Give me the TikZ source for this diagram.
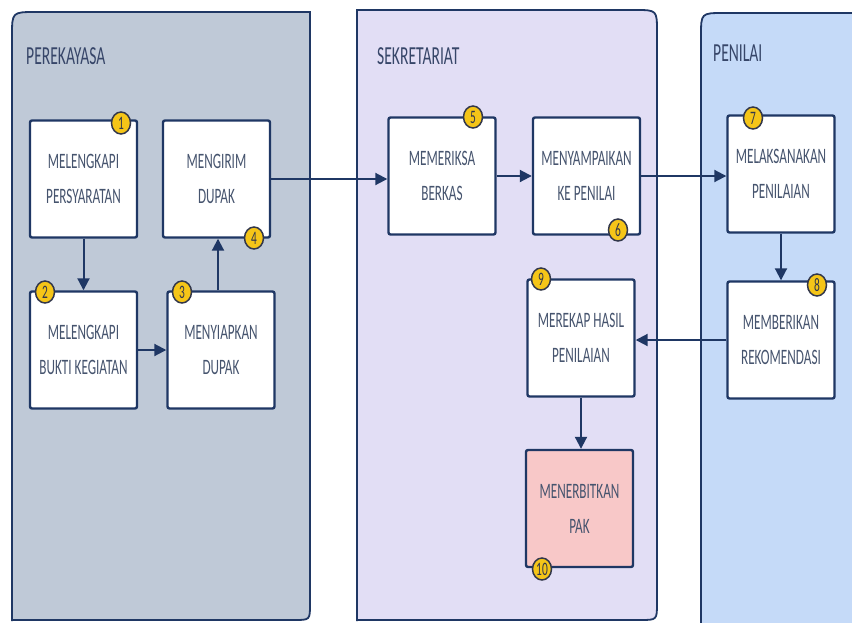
\documentclass[tikz,border=0pt]{standalone}
\usepackage{fontspec}
\setmainfont[FakeStretch=0.6]{Carlito}
\usetikzlibrary{arrows.meta,shapes.geometric}
\definecolor{navy}{RGB}{31,55,100}
\definecolor{txt}{RGB}{70,84,110}
\definecolor{ttl}{RGB}{55,70,105}
\definecolor{pone}{RGB}{191,201,215}
\definecolor{ptwo}{RGB}{226,222,245}
\definecolor{pthree}{RGB}{197,218,248}
\definecolor{pinkbox}{RGB}{248,200,200}
\definecolor{badgey}{RGB}{245,197,24}
\definecolor{badgeb}{RGB}{50,55,75}
\tikzset{
  panel/.style={draw=navy, line width=1.8pt},
  stepbox/.style={draw=navy, fill=white, line width=2.4pt, rounded corners=2pt,
    align=center, text=txt, font=\fontsize{22}{35}\selectfont,
    minimum width=107pt, minimum height=117pt, inner sep=0pt},
  badge/.style={ellipse, draw=badgeb, fill=badgey, line width=1.5pt,
    minimum width=19pt, minimum height=22pt, inner sep=0pt, text=badgeb, font=\fontsize{19}{19}\selectfont},
  title/.style={anchor=west, text=ttl, font=\fontsize{26}{26}\selectfont, inner sep=0pt},
  flow/.style={draw=navy, line width=2pt, -{Triangle[length=12pt,width=12pt]}}
}
\begin{document}
\begin{tikzpicture}[x=1pt,y=-1pt]
\useasboundingbox (0,0) rectangle (852,622);
\clip (0,0) rectangle (852,622);
\fill[white] (0,0) rectangle (852,622);
% panels
\filldraw[panel, fill=pone] (12,621) -- (12,36) .. controls (12,12) .. (36,12) -- (310,12) -- (310,604) .. controls (310,620) .. (294,620) -- (12,620);
\filldraw[panel, fill=ptwo] (357,621) -- (357,10) -- (635,10) .. controls (657,10) .. (657,32) -- (657,603) .. controls (657,620) .. (640,620) -- (357,620);
\filldraw[panel, fill=pthree] (701,630) -- (701,36) .. controls (701,13) .. (724,13) -- (860,13) -- (860,630) -- cycle;
% titles
\node[title] (t1) at (26,56) {PEREKAYASA};
\node[title] (t2) at (377,56) {SEKRETARIAT};
\node[title] (t3) at (713,53) {PENILAI};
% boxes
\node[stepbox] (b1) at (83.5,179) {MELENGKAPI\\PERSYARATAN};
\node[stepbox] (b4) at (216.5,179) {MENGIRIM\\DUPAK};
\node[stepbox] (b2) at (83.5,350) {MELENGKAPI\\BUKTI KEGIATAN};
\node[stepbox] (b3) at (221,350) {MENYIAPKAN\\DUPAK};
\node[stepbox] (b5) at (442,176) {MEMERIKSA\\BERKAS};
\node[stepbox] (b6) at (586.5,176) {MENYAMPAIKAN\\KE PENILAI};
\node[stepbox] (b9) at (581,338) {MEREKAP HASIL\\PENILAIAN};
\node[stepbox, fill=pinkbox] (b10) at (579.5,508.5) {MENERBITKAN\\PAK};
\node[stepbox] (b7) at (781,174) {MELAKSANAKAN\\PENILAIAN};
\node[stepbox] (b8) at (781,340) {MEMBERIKAN\\REKOMENDASI};
% connectors
\draw[flow] (b1.south) -- (b2.north);
\draw[flow] (b2.east) -- (b3.west);
\draw[flow] ([xshift=-3pt]b3.north) -- ([xshift=-3pt]b3.north |- b4.south);
\draw[flow] (b4.east) -- (b4.east -| b5.west);
\draw[flow] (b5.east) -- (b6.west);
\draw[flow] (b6.east) -- (b6.east -| b7.west);
\draw[flow] (b7.south) -- (b8.north);
\draw[flow] (b8.west) -- (b8.west -| b9.east);
\draw[flow] (b9.south) -- (b9.south |- b10.north);
% badges
\node[badge] (n1) at (121,123) {1};
\node[badge] (n2) at (45,292) {2};
\node[badge] (n3) at (182,292) {3};
\node[badge] (n4) at (254,238) {4};
\node[badge] (n5) at (473,117) {5};
\node[badge] (n6) at (618,230) {6};
\node[badge] (n7) at (753,118) {7};
\node[badge] (n8) at (817,285) {8};
\node[badge] (n9) at (541,279) {9};
\node[badge] (n10) at (542,569) {10};
\end{tikzpicture}
\end{document}
